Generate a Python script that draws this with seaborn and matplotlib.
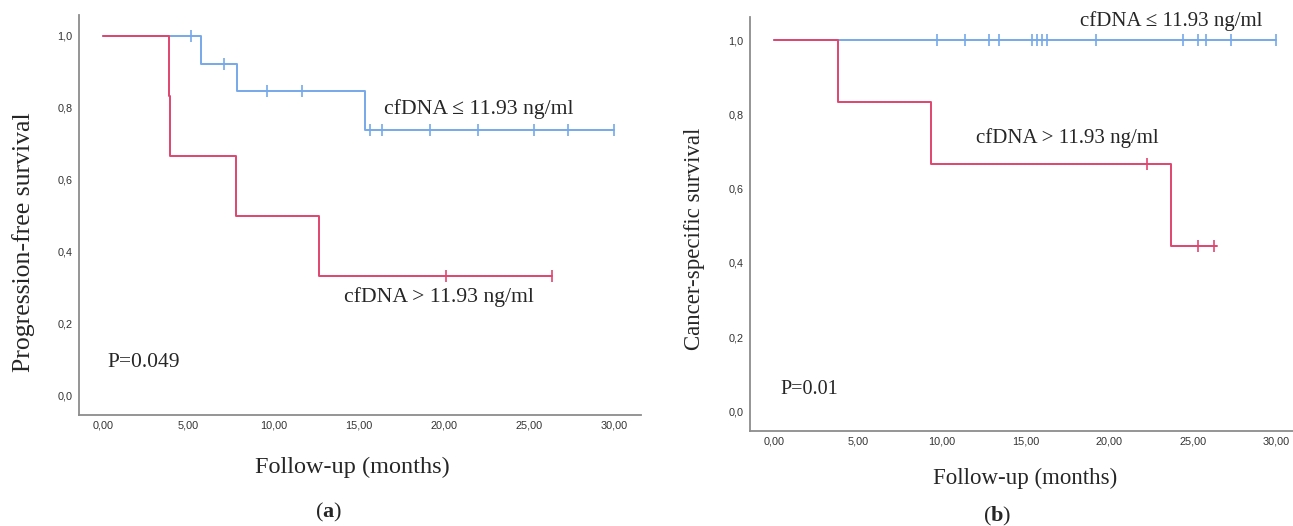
import numpy as np
import pandas as pd
import matplotlib
matplotlib.use("Agg")
import matplotlib.pyplot as plt
import seaborn as sns

# Kaplan-Meier step points (time, survival)
# panel a: progression-free survival
a_low_t = [0.0, 5.72, 7.84, 15.39, 30.0]
a_low_s = [1.0, 0.923, 0.846, 0.738, 0.738]
a_low_cens = [5.16, 7.1, 9.62, 11.67, 15.7, 16.37, 19.2, 22.04, 25.33, 27.3, 30.0]

a_high_t = [0.0, 3.84, 3.94, 7.79, 12.66, 26.4]
a_high_s = [1.0, 0.833, 0.667, 0.5, 0.333, 0.333]
a_high_cens = [20.14, 26.36]

# panel b: cancer-specific survival
b_low_t = [0.0, 30.0]
b_low_s = [1.0, 1.0]
b_low_cens = [9.7, 11.4, 12.8, 13.4, 15.4, 15.7, 16.0, 16.3, 19.2, 24.4, 25.3, 25.8, 27.3, 30.0]

b_high_t = [0.0, 3.83, 9.35, 23.7, 26.45]
b_high_s = [1.0, 0.833, 0.667, 0.444, 0.444]
b_high_cens = [22.3, 25.3, 26.3]

x_ticks = [0, 5, 10, 15, 20, 25, 30]
y_ticks = [0.0, 0.2, 0.4, 0.6, 0.8, 1.0]

BLUE = "#76a9ea"
RED = "#e0456f"
SERIF = "Liberation Serif"

sns.set_style("white")
plt.rcParams['font.family'] = ['Liberation Sans', 'DejaVu Sans']
plt.rcParams['mathtext.fontset'] = 'custom'
plt.rcParams['mathtext.rm'] = 'Liberation Serif'
plt.rcParams['mathtext.bf'] = 'Liberation Serif:bold'


def surv_at(times, surv, t):
    idx = np.searchsorted(times, t, side='right') - 1
    return np.array(surv)[idx]


def km(ax, t, s, cens, color):
    df = pd.DataFrame({'time': t, 'surv': s})
    sns.lineplot(data=df, x='time', y='surv', ax=ax, color=color, lw=1.4,
                 drawstyle='steps-post', estimator=None, sort=False)
    cdf = pd.DataFrame({'time': cens, 'surv': surv_at(t, s, cens)})
    sns.scatterplot(data=cdf, x='time', y='surv', ax=ax, color=color,
                    marker='|', s=70, linewidth=1.2, zorder=3)


def style(ax, xlim, ylim):
    ax.set_xlim(*xlim)
    ax.set_ylim(*ylim)
    ax.set_xticks(x_ticks)
    ax.set_xticklabels([f"{v:.2f}".replace('.', ',') for v in x_ticks])
    ax.set_yticks(y_ticks)
    ax.set_yticklabels([f"{v:.1f}".replace('.', ',') for v in y_ticks])
    ax.tick_params(length=0, labelsize=7.8, colors='#333333')
    ax.tick_params(axis='x', pad=4)
    ax.tick_params(axis='y', pad=4.5)
    for side in ['top', 'right']:
        ax.spines[side].set_visible(False)
    for side in ['left', 'bottom']:
        ax.spines[side].set_color('#8c8c8c')
        ax.spines[side].set_linewidth(1.3)


def labels(ax, ytext, ysize, ycoords, xsize, xcoords):
    ax.set_ylabel(ytext, family=SERIF, fontsize=ysize, va='center')
    ax.set_xlabel("Follow-up (months)", family=SERIF, fontsize=xsize, va='center')
    ax.yaxis.set_label_coords(*ycoords)
    ax.xaxis.set_label_coords(*xcoords)


fig = plt.figure(figsize=(12.93, 5.26), dpi=100)
ax_a = fig.add_axes([0.0611, 0.211, 0.4346, 0.7605])
ax_b = fig.add_axes([0.580, 0.1806, 0.420, 0.787])

# panel a
km(ax_a, a_low_t, a_low_s, a_low_cens, BLUE)
km(ax_a, a_high_t, a_high_s, a_high_cens, RED)
style(ax_a, (-1.42, 31.6), (-0.053, 1.058))
labels(ax_a, "Progression-free survival", 18.5, (-0.098, 0.431), 17.5, (0.486, -0.13))
ax_a.text(16.5, 0.797, "cfDNA \u2264 11.93 ng/ml", family=SERIF, fontsize=15.6, va='center')
ax_a.text(14.15, 0.274, "cfDNA > 11.93 ng/ml", family=SERIF, fontsize=15.6, va='center')
ax_a.text(0.23, 0.093, "P=0.049", family=SERIF, fontsize=15.5, va='center')

# panel b
km(ax_b, b_low_t, b_low_s, b_low_cens, BLUE)
km(ax_b, b_high_t, b_high_s, b_high_cens, RED)
style(ax_b, (-1.46, 31.0), (-0.053, 1.062))
labels(ax_b, "Cancer-specific survival", 16.5, (-0.103, 0.464), 16.5, (0.506, -0.1135))
ax_b.text(18.26, 1.05, "cfDNA \u2264 11.93 ng/ml", family=SERIF, fontsize=15, va='center')
ax_b.text(12.07, 0.736, "cfDNA > 11.93 ng/ml", family=SERIF, fontsize=15, va='center')
ax_b.text(0.36, 0.06, "P=0.01", family=SERIF, fontsize=14.5, va='center')

for x, y, letter in [(0.2537, 0.025, 'a'), (0.771, 0.019, 'b')]:
    fig.text(x, y, r"$\mathrm{(}\mathbf{" + letter + r"}\mathrm{)}$",
             fontsize=16, ha='center', va='center')

fig.savefig("out.png", dpi=100)
